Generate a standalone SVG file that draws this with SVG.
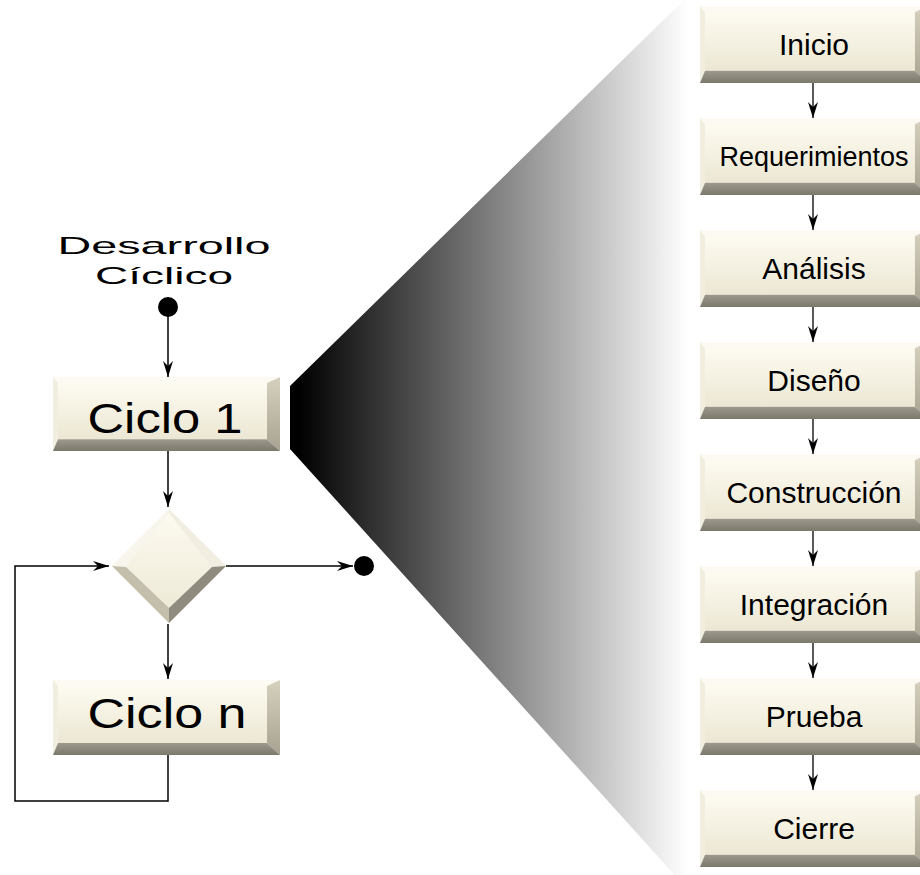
<svg xmlns="http://www.w3.org/2000/svg" xmlns:xlink="http://www.w3.org/1999/xlink" width="920" height="875" viewBox="0 0 920 875">
  <style>
    .wide { font-family: "Liberation Sans", Arial, sans-serif; fill: #000; text-anchor: middle; }
    .step { font-family: "Liberation Sans", Arial, sans-serif; font-size: 30px; fill: #000; text-anchor: middle; }
    .step.long { font-size: 27px; }
    .conn { fill: none; stroke: #000; stroke-width: 1.5; }
    .conn-r { fill: none; stroke: #000; stroke-width: 1.3; }
  </style>
  <defs>
    <!-- funnel shading: black on the left fading to white -->
    <linearGradient id="funnelGrad" gradientUnits="userSpaceOnUse" x1="298" y1="0" x2="688" y2="0">
      <stop offset="0" stop-color="#000"/>
      <stop offset="1" stop-color="#fff"/>
    </linearGradient>
    <linearGradient id="faceGrad" x1="0" y1="0" x2="0" y2="1">
      <stop offset="0" stop-color="#fdfbf1"/>
      <stop offset="1" stop-color="#ece7d3"/>
    </linearGradient>
    <linearGradient id="rightGrad" x1="0" y1="0" x2="0" y2="1">
      <stop offset="0" stop-color="#d6d1bf"/>
      <stop offset="1" stop-color="#a8a290"/>
    </linearGradient>
    <linearGradient id="bottomGrad" x1="0" y1="0" x2="0" y2="1">
      <stop offset="0" stop-color="#9d998c"/>
      <stop offset="1" stop-color="#7c786c"/>
    </linearGradient>
    <!-- raised bevelled button -->
    <symbol id="button" viewBox="0 0 227 75" preserveAspectRatio="none">
      <rect x="5" y="6" width="209" height="57" fill="url(#faceGrad)"/>
      <polygon points="0,0 227,0 214,6 5,6" fill="#fcfaf2"/>
      <polygon points="0,0 5,6 5,63 0,75" fill="#f1eedf"/>
      <polygon points="227,0 227,75 214,63 214,6" fill="url(#rightGrad)"/>
      <polygon points="0,75 5,63 214,63 227,75" fill="url(#bottomGrad)"/>
    </symbol>
    <marker id="arrow" markerUnits="userSpaceOnUse" viewBox="0 0 16 10" markerWidth="16" markerHeight="10" refX="16" refY="5" orient="auto">
      <path d="M0,0 L16,5 L0,10 L5,5 Z" fill="#000"/>
    </marker>
  </defs>

  <rect width="920" height="875" fill="#fff"/>

  <!-- zoom funnel from Ciclo 1 to the phase list -->
  <polygon id="funnel" points="290,386 690,-6 690,892 290,449" fill="url(#funnelGrad)"/>

  <g id="connectors">
    <line class="conn" x1="168" y1="316" x2="168" y2="377" marker-end="url(#arrow)"/>
    <line class="conn" x1="168" y1="451" x2="168" y2="507" marker-end="url(#arrow)"/>
    <line class="conn" x1="226" y1="566" x2="353" y2="566" marker-end="url(#arrow)"/>
    <line class="conn" x1="168" y1="624" x2="168" y2="679" marker-end="url(#arrow)"/>
    <polyline class="conn" points="168,755 168,801 15,801 15,566 109,566" marker-end="url(#arrow)"/>

    <line class="conn-r" x1="813" y1="83" x2="813" y2="118" marker-end="url(#arrow)"/>
    <line class="conn-r" x1="813" y1="195" x2="813" y2="230" marker-end="url(#arrow)"/>
    <line class="conn-r" x1="813" y1="307" x2="813" y2="342" marker-end="url(#arrow)"/>
    <line class="conn-r" x1="813" y1="419" x2="813" y2="454" marker-end="url(#arrow)"/>
    <line class="conn-r" x1="813" y1="531" x2="813" y2="566" marker-end="url(#arrow)"/>
    <line class="conn-r" x1="813" y1="643" x2="813" y2="678" marker-end="url(#arrow)"/>
    <line class="conn-r" x1="813" y1="755" x2="813" y2="790" marker-end="url(#arrow)"/>
  </g>

  <g id="start">
    <text class="wide" x="164" y="254" font-size="24" textLength="213" lengthAdjust="spacingAndGlyphs">Desarrollo</text>
    <text class="wide" x="164" y="284" font-size="24" textLength="138" lengthAdjust="spacingAndGlyphs">Cíclico</text>
    <circle cx="168" cy="307" r="10" fill="#000"/>
  </g>

  <g id="ciclo1">
    <use xlink:href="#button" x="53" y="377" width="227" height="74"/>
    <text class="wide" x="165" y="433" font-size="42" textLength="155" lengthAdjust="spacingAndGlyphs">Ciclo 1</text>
  </g>

  <g id="decision">
    <polygon points="169,509 226,566 169,623 112,566" fill="url(#faceGrad)"/>
    <polygon points="112,566 169,509 169,513 126,567" fill="#f8f6ec"/>
    <polygon points="169,509 226,566 212,567 169,513" fill="#f1eee1"/>
    <polygon points="112,566 126,567 169,608 169,623" fill="#c4bfad"/>
    <polygon points="226,566 169,623 169,608 212,567" fill="#8f8b7e"/>
  </g>

  <g id="fin">
    <circle cx="364" cy="566" r="10" fill="#000"/>
  </g>

  <g id="ciclon">
    <use xlink:href="#button" x="53" y="680" width="227" height="75"/>
    <text class="wide" x="167" y="728" font-size="43" textLength="159" lengthAdjust="spacingAndGlyphs">Ciclo n</text>
  </g>

  <g id="inicio">
    <use xlink:href="#button" x="700" y="6" width="228" height="77"/>
    <text class="step" x="814" y="55">Inicio</text>
  </g>
  <g id="requerimientos">
    <use xlink:href="#button" x="700" y="118" width="228" height="77"/>
    <text class="step long" x="814" y="166">Requerimientos</text>
  </g>
  <g id="analisis">
    <use xlink:href="#button" x="700" y="230" width="228" height="77"/>
    <text class="step" x="814" y="279">Análisis</text>
  </g>
  <g id="diseno">
    <use xlink:href="#button" x="700" y="342" width="228" height="77"/>
    <text class="step" x="814" y="391">Diseño</text>
  </g>
  <g id="construccion">
    <use xlink:href="#button" x="700" y="454" width="228" height="77"/>
    <text class="step" x="814" y="503">Construcción</text>
  </g>
  <g id="integracion">
    <use xlink:href="#button" x="700" y="566" width="228" height="77"/>
    <text class="step" x="814" y="615">Integración</text>
  </g>
  <g id="prueba">
    <use xlink:href="#button" x="700" y="678" width="228" height="77"/>
    <text class="step" x="814" y="727">Prueba</text>
  </g>
  <g id="cierre">
    <use xlink:href="#button" x="700" y="790" width="228" height="77"/>
    <text class="step" x="814" y="839">Cierre</text>
  </g>
</svg>
